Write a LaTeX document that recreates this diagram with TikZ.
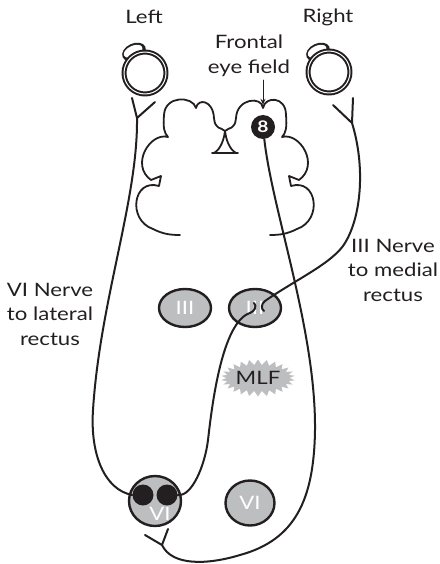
\documentclass[tikz,border=0pt]{standalone}
\usepackage{fontspec}
\setmainfont{Lato}[FakeStretch=1.2]
\usetikzlibrary{shapes.geometric,shapes.symbols,arrows.meta}
\definecolor{ink}{RGB}{35,31,32}
\definecolor{nucgray}{RGB}{188,190,192}

\begin{document}
\begin{tikzpicture}[x=1pt,y=-1pt,line join=round,line cap=round,
  lbl/.style={align=center,text=ink,font=\fontsize{18.5}{24.5}\selectfont},
  nucleus/.style={ellipse,draw=ink,line width=2.4pt,fill=nucgray,text=white,inner sep=0pt,font=\fontsize{18.5}{20}\selectfont},
  nerve/.style={draw=ink,line width=2pt},
  eye/.style={circle,draw=ink,line width=2pt,double=white,double distance=1pt,fill=white,minimum size=42pt,inner sep=0pt},
  dot/.style={circle,fill=ink,minimum size=21pt,inner sep=0pt},
  pointer/.style={draw=ink,line width=1pt,-{Stealth[length=6pt,width=5pt]}}]
\useasboundingbox (0,0) rectangle (439,564);

\node[lbl] (left) at (144,17) {Left};
\node[lbl] (right) at (328,17) {Right};
\node[lbl] (fefl) at (249,56) {Frontal\\eye field};
\node[lbl] (vinerve) at (50,314) {VI Nerve\\to lateral\\rectus};
\node[lbl] (iiinerve) at (393,270) {III Nerve\\to medial\\rectus};

% eyes with the cornea bulge
\foreach \ex in {145,329} {
  \fill[ink,rotate around={25:(\ex-11,52)}] (\ex-11,52) ellipse [x radius=12.5pt,y radius=8.5pt];
  \fill[white,rotate around={25:(\ex-11,52)}] (\ex-11.5,51) ellipse [x radius=10pt,y radius=5.5pt];
}
\node[eye] (eyeL) at (145,73) {};
\node[eye] (eyeR) at (329,72) {};

% brain outline
\draw[ink,line width=1.8pt] (236,153) .. controls (229,149) and (226,139) .. (225,131)
  .. controls (221,127) and (215,130) .. (214,118)
  .. controls (213,100) and (198,98) .. (196,108)
  .. controls (193,96) and (165,95) .. (164,115)
  .. controls (163,127) and (164,133) .. (168,137)
  .. controls (150,132) and (130,165) .. (151,180)
  -- (161,176) -- (159,186)
  .. controls (133,178) and (127,220) .. (153,229)
  .. controls (163,234) and (170,235) .. (180,235);
\draw[ink,line width=1.8pt] (214,153) .. controls (221,149) and (224,139) .. (225,131)
  .. controls (229,127) and (235,130) .. (236,118)
  .. controls (237,98) and (262,96) .. (263,108)
  .. controls (265,96) and (286,96) .. (286,115)
  .. controls (287,127) and (286,133) .. (282,137)
  .. controls (300,132) and (320,165) .. (299,180)
  -- (289,176) -- (291,186)
  .. controls (317,178) and (323,220) .. (297,229)
  .. controls (287,234) and (280,235) .. (270,235);
\draw[ink,line width=1.8pt] (212,153) -- (238,153);

\node[circle,fill=ink,text=white,minimum size=24pt,inner sep=0pt,font=\fontsize{16}{16}\selectfont\bfseries] (fef) at (263,127) {8};
\draw[pointer,shorten >=10pt] (fefl.south -| fef.north) -- (fef.north);

% nuclei
\node[nucleus,minimum width=52pt,minimum height=38pt] (IIIL) at (185,308) {III};
\node[nucleus,minimum width=52pt,minimum height=38pt] (IIIR) at (255,308) {III};
\node[nucleus,minimum width=52pt,minimum height=50pt] (VIL) at (155,501) {};
\node[nucleus,minimum width=49pt,minimum height=45pt] (VIR) at (250,503) {VI};
\node[dot] (d1) at (143,495) {};
\node[dot] (d2) at (167,495) {};
\node[text=white,font=\fontsize{18.5}{20}\selectfont] (VIt) at (160,514) {VI};
\node[starburst,fill=nucgray,text=ink,starburst points=26,starburst point height=5.5pt,random starburst=0,
  minimum width=68pt,minimum height=37pt,inner sep=0pt,font=\fontsize{18.5}{20}\selectfont] (mlf) at (258,378) {MLF};

% nerve roots
\coordinate (sL) at (132,98);  \coordinate (bL) at (155,102); \coordinate (jL) at (137,118);
\coordinate (sR) at (353,98);  \coordinate (bR) at (333,105); \coordinate (jR) at (352,123);
\coordinate (sV) at (168,529); \coordinate (bV) at (145,535); \coordinate (jV) at (162,545);
\draw[nerve] (sL) -- (jL) (bL) -- (jL);
\draw[nerve] (sR) -- (jR) (bR) -- (jR);
\draw[nerve] (sV) -- (jV) (bV) -- (jV);

% pathways
\draw[nerve] (jL) .. controls (138,200) and (100,300) .. (93,410)
  .. controls (90,455) and (105,490) .. (d1.west);
\draw[nerve] (d2.east) .. controls (192,497) and (205,465) .. (208,440)
  .. controls (212,405) and (222,322) .. (250,313)
  .. controls (255,311) and (257,306) .. (254,303);
\draw[nerve] (jR) .. controls (365,165) and (362,215) .. (345,243)
  .. controls (333,263) and (295,280) .. (265,301)
  .. controls (261,304) and (261,309) .. (264,311);
\draw[nerve] (fef) .. controls (272,210) and (316,330) .. (315,430)
  .. controls (314,500) and (295,540) .. (240,555)
  .. controls (207,565) and (172,566) .. (jV);
\end{tikzpicture}
\end{document}
